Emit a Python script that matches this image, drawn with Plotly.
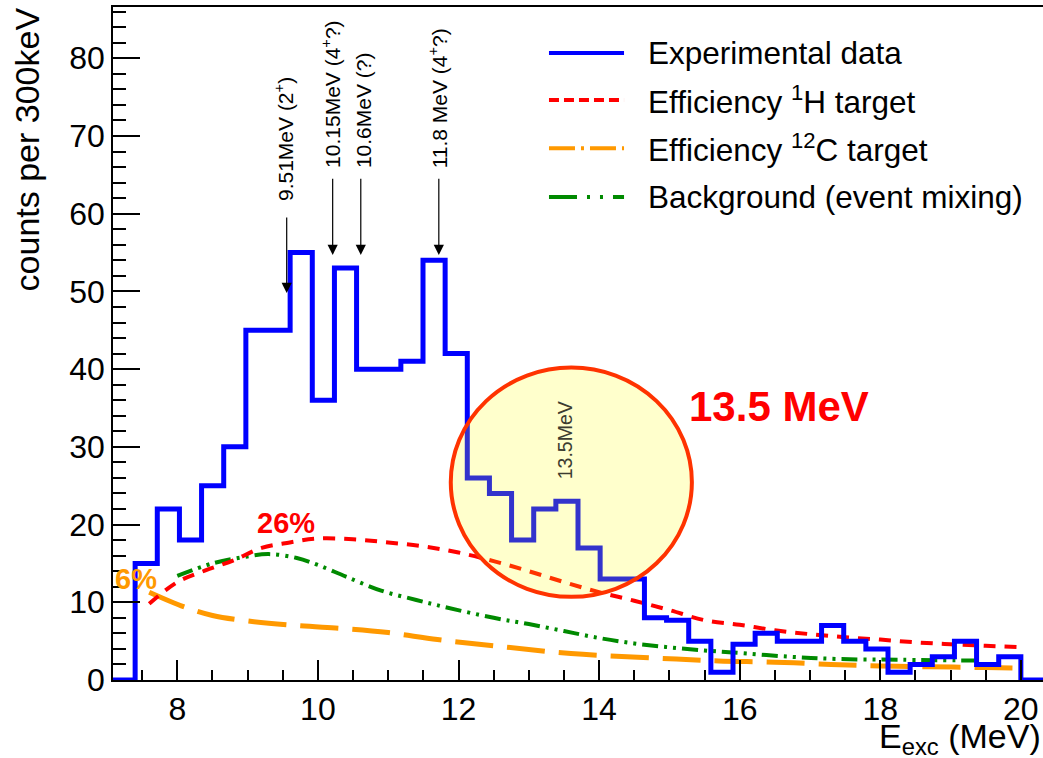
import plotly.graph_objects as go

# ---------------- data ----------------
bin_start = 7.085          # MeV, low edge of first bin
bin_width = 0.315          # MeV
counts = [0, 15, 22, 18, 25, 30, 45, 45, 55, 36, 53, 40, 40, 41, 54, 42,
          26, 24, 18, 22, 23, 17, 13, 13, 8, 7.7, 5, 1, 4.6, 6, 5, 5, 7,
          5, 4, 1, 2, 3, 5, 2, 3, 0]

eff_h_x = [7.6, 8.0, 8.4, 8.8, 9.2, 9.6, 10.0, 10.5, 11.0, 11.5, 12.0, 12.5,
           13.0, 13.5, 14.0, 14.5, 15.0, 15.5, 16.0, 16.5, 17.0, 17.5, 18.0,
           18.5, 19.0, 19.5, 20.05]
eff_h_y = [9.8, 12.6, 14.1, 15.4, 17.0, 17.7, 18.2, 18.1, 17.7, 17.2, 16.4,
           15.3, 14.0, 12.6, 11.3, 10.2, 9.0, 7.7, 7.1, 6.4, 5.9, 5.5, 5.2,
           4.85, 4.6, 4.4, 4.2]

eff_c_x = [7.6, 8.1, 8.5, 9.0, 9.7, 10.4, 11.0, 11.7, 12.5, 13.6, 15.1, 15.7,
           16.5, 17.3, 18.0, 18.7, 19.5, 20.05]
eff_c_y = [11.3, 9.4, 8.3, 7.6, 7.0, 6.6, 6.1, 5.2, 4.4, 3.4, 2.7, 2.45, 2.3,
           2.0, 1.8, 1.7, 1.6, 1.5]

bg_x = [8.0, 8.5, 9.0, 9.3, 9.7, 10.0, 10.4, 10.9, 11.4, 11.8, 12.5, 13.0,
        13.5, 14.0, 14.5, 15.0, 15.5, 15.9, 16.7, 17.4, 18.3, 19.35]
bg_y = [13.4, 15.0, 15.9, 16.2, 15.7, 14.8, 13.3, 11.5, 10.3, 9.4, 8.0, 7.2,
        6.3, 5.4, 4.7, 4.2, 3.8, 3.55, 3.0, 2.7, 2.6, 2.5]

state_labels = ["9.51MeV (2<sup>+</sup>)", "10.15MeV (4<sup>+</sup>?)",
                "10.6MeV (?)", "11.8 MeV (4<sup>+</sup>?)"]
state_x = [9.556, 10.21, 10.61, 11.72]       # arrow positions as drawn
state_head = [49.8, 54.7, 54.7, 54.7]
state_tail = [59.7, 64.7, 64.7, 64.7]
state_text_x = [9.52, 10.196, 10.64, 11.71]
state_text_y = [61.4, 65.6, 65.6, 65.6]

legend_labels = ["Experimental data", "Efficiency <sup>1</sup>H target",
                 "Efficiency <sup>12</sup>C target", "Background (event mixing)"]

x_range = [7.085, 20.315]
y_range = [0, 86.6]

FONT = "Liberation Sans, Arial, sans-serif"
BLUE = "#0000ff"
RED = "#ff0000"
ORANGE = "#ff9900"
GREEN = "#008a00"

edges = [bin_start + i * bin_width for i in range(len(counts) + 1)]

fig = go.Figure()
fig.add_trace(go.Scatter(x=eff_c_x, y=eff_c_y, mode="lines", line_shape="spline",
                         line=dict(color=ORANGE, width=5, dash="38px,14px"),
                         showlegend=False, hoverinfo="skip"))
fig.add_trace(go.Scatter(x=bg_x, y=bg_y, mode="lines", line_shape="spline",
                         line=dict(color=GREEN, width=4, dash="16px,6px,3px,6px,3px,6px"),
                         showlegend=False, hoverinfo="skip"))
fig.add_trace(go.Scatter(x=eff_h_x, y=eff_h_y, mode="lines", line_shape="spline",
                         line=dict(color=RED, width=4, dash="12px,9px"),
                         showlegend=False, hoverinfo="skip"))
fig.add_trace(go.Scatter(x=edges, y=counts + [counts[-1]], mode="lines", line_shape="hv",
                         line=dict(color=BLUE, width=5), showlegend=False, hoverinfo="skip"))

# highlighted circle
fig.add_shape(type="circle", xref="x", yref="y", x0=11.89, x1=15.32, y0=10.7, y1=40.2,
              line=dict(color="#ff3300", width=4), fillcolor="rgba(255,255,0,0.2)",
              layer="above")

annotations = []
for lab, xa, yh, yt, xt, ytx in zip(state_labels, state_x, state_head, state_tail,
                                    state_text_x, state_text_y):
    annotations.append(dict(x=xa, y=yh, ax=xa, ay=yt, xref="x", yref="y", axref="x", ayref="y",
                            text="", showarrow=True, arrowhead=2, arrowsize=1.7,
                            arrowwidth=1.2, arrowcolor="black"))
    annotations.append(dict(x=xt, y=ytx, xref="x", yref="y", text=lab, textangle=-90,
                            showarrow=False, xanchor="center", yanchor="bottom",
                            font=dict(family=FONT, size=21, color="black")))

annotations.append(dict(x=13.51, y=30.8, xref="x", yref="y", text="13.5MeV", textangle=-90,
                        showarrow=False, font=dict(family=FONT, size=19.5, color="#3c3c30")))
annotations.append(dict(x=15.25, y=35.2, xref="x", yref="y", text="<b>13.5 MeV</b>",
                        showarrow=False, xanchor="left",
                        font=dict(family=FONT, size=42, color=RED)))
annotations.append(dict(x=9.55, y=20.2, xref="x", yref="y", text="<b>26%</b>",
                        showarrow=False, font=dict(family=FONT, size=29, color=RED)))
annotations.append(dict(x=7.085, y=12.95, xref="x", yref="y", text="<b>6%</b>",
                        showarrow=False, xanchor="left",
                        font=dict(family=FONT, size=29, color=ORANGE)))

# manual legend
leg_styles = [dict(color=BLUE, width=4, dash="solid"),
              dict(color=RED, width=4, dash="10px,5px"),
              dict(color=ORANGE, width=4, dash="26px,6px,3px,6px"),
              dict(color=GREEN, width=4, dash="28px,10px,3px,10px,3px,10px")]
leg_y = [0.9316, 0.8617, 0.7903, 0.7175]
for st, yy, lab in zip(leg_styles, leg_y, legend_labels):
    fig.add_shape(type="line", xref="paper", yref="paper", x0=0.4688, x1=0.5495,
                  y0=yy, y1=yy, line=st)
    annotations.append(dict(x=0.5732, y=yy, xref="paper", yref="paper", text=lab,
                            showarrow=False, xanchor="left", yanchor="middle",
                            font=dict(family=FONT, size=31.5, color="black")))

# axis titles
annotations.append(dict(x=-0.092, y=1.003, xref="paper", yref="paper",
                        text="counts per 300keV", textangle=-90, showarrow=False,
                        xanchor="center", yanchor="top",
                        font=dict(family=FONT, size=34, color="black")))
annotations.append(dict(x=1.0, y=-0.052, xref="paper", yref="paper",
                        text="E<sub>exc</sub> (MeV)", showarrow=False,
                        xanchor="right", yanchor="top",
                        font=dict(family=FONT, size=34, color="black")))

fig.update_layout(
    width=1043, height=758,
    margin=dict(l=113, r=0, t=7, b=78),
    paper_bgcolor="white", plot_bgcolor="white",
    font=dict(family=FONT, size=32, color="black"),
    annotations=annotations,
    showlegend=False,
)
fig.update_xaxes(range=x_range, dtick=2, tick0=0, ticks="inside", ticklen=20, tickwidth=1.5,
                 tickcolor="black", showline=True, linecolor="black", linewidth=1.5,
                 mirror=True, showgrid=False, zeroline=False,
                 tickfont=dict(family=FONT, size=32, color="black"),
                 minor=dict(dtick=0.5, ticks="inside", ticklen=10, tickwidth=1.5,
                            tickcolor="black", showgrid=False))
fig.update_yaxes(range=y_range, dtick=10, tick0=0, ticks="inside", ticklen=27, tickwidth=1.5,
                 tickcolor="black", showline=True, linecolor="black", linewidth=1.5,
                 mirror=False, showgrid=False, zeroline=False,
                 tickfont=dict(family=FONT, size=32, color="black"),
                 minor=dict(dtick=2, ticks="inside", ticklen=13, tickwidth=1.5,
                            tickcolor="black", showgrid=False))

fig.write_html("out.html")
